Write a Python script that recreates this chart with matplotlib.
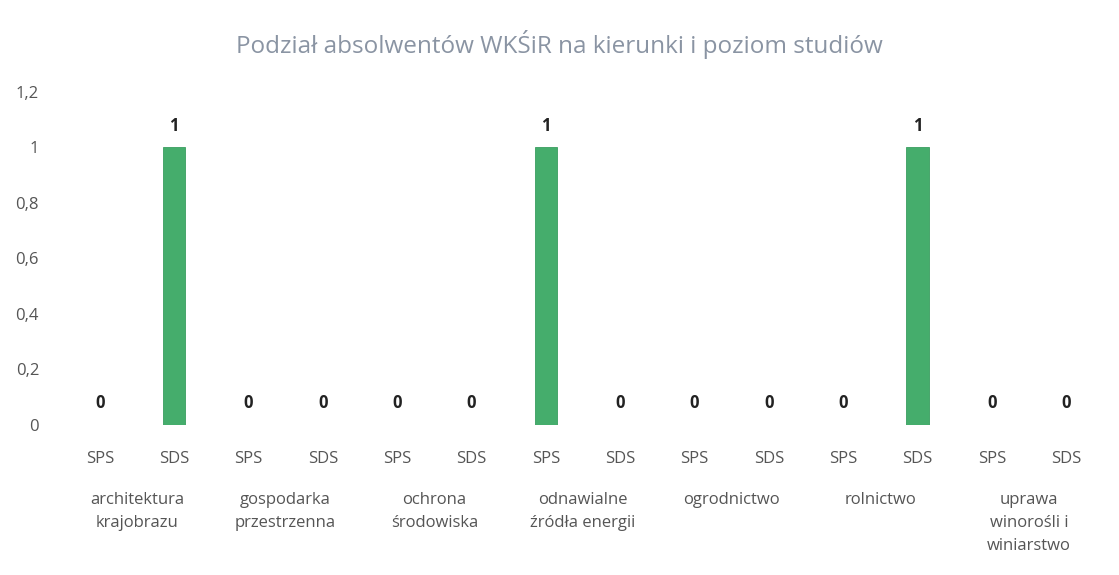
import matplotlib.pyplot as plt
import numpy as np

# data
kierunki = [
    "architektura\nkrajobrazu",
    "gospodarka\nprzestrzenna",
    "ochrona\nśrodowiska",
    "odnawialne\nźródła energii",
    "ogrodnictwo",
    "rolnictwo",
    "uprawa\nwinorośli i\nwiniarstwo",
]
poziomy = ["SPS", "SDS"]
absolwenci = [0, 1, 0, 0, 0, 0, 1, 0, 0, 0, 0, 1, 0, 0]
y_ticks = [0, 0.2, 0.4, 0.6, 0.8, 1.0, 1.2]
y_labels = ["0", "0,2", "0,4", "0,6", "0,8", "1", "1,2"]

plt.rcParams["font.family"] = ["Open Sans", "DejaVu Sans"]

fig = plt.figure(figsize=(11.19, 5.75), dpi=100)
ax = fig.add_axes([0.056, 0.261, 0.930, 0.579])

x = np.arange(len(absolwenci))
ax.bar(x, absolwenci, width=0.3, color="#45ad6c", edgecolor="#3a9d60", linewidth=0.6)

for xi, v in zip(x, absolwenci):
    ax.text(xi, v + 0.045, f"{v}", ha="center", va="bottom", fontsize=12,
            fontweight="bold", color="#222222")

ax.set_xlim(-0.5, len(absolwenci) - 0.5)
ax.set_ylim(0, 1.2)
ax.set_yticks(y_ticks)
ax.set_yticklabels(y_labels)
ax.set_xticks(x)
ax.set_xticklabels([poziomy[i % 2] for i in x])
ax.tick_params(axis="both", length=0, labelsize=12, labelcolor="#555555")
ax.tick_params(axis="x", pad=19)
ax.tick_params(axis="y", pad=17)
for s in ax.spines.values():
    s.set_visible(False)

# group labels under the SPS/SDS row
trans = ax.get_xaxis_transform()
for i, k in enumerate(kierunki):
    ax.text(2 * i + 0.5, -0.20, k, transform=trans, ha="center", va="top",
            fontsize=12, color="#555555", linespacing=1.6)

fig.suptitle("Podział absolwentów WKŚiR na kierunki i poziom studiów", y=0.948,
             fontsize=17.5, color="#8a94a3")

fig.savefig("out.png", dpi=100)
